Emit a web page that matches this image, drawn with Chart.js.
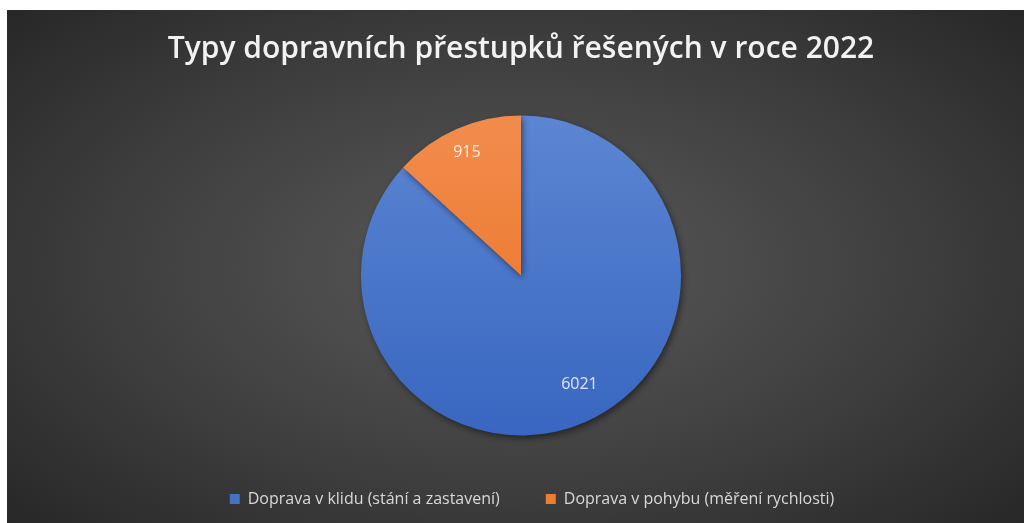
<!DOCTYPE html>
<html>
<head>
<meta charset="utf-8">
<script src="https://cdn.jsdelivr.net/npm/chart.js@4"></script>
<style>
  html, body { margin: 0; padding: 0; background: #ffffff; }
  #wrap {
    position: absolute; left: 7px; top: 10px; width: 1017px; height: 513px;
    background: radial-gradient(ellipse 70% 75% at 50% 50%, #5a5a5a 0%, #3f3f3f 55%, #262626 100%);
  }
</style>
</head>
<body>
<div id="wrap"><canvas id="myPieChart"></canvas></div>
<script>
const kategorie = ["Doprava v klidu (stání a zastavení)", "Doprava v pohybu (měření rychlosti)"];
const pocty = [6021, 915];
const nadpis = "Typy dopravních přestupků řešených v roce 2022";
const barvyNahore = ['#5d87d3', '#f28d4f'];
const barvyDole = ['#3765c0', '#e86f1c'];

document.addEventListener("DOMContentLoaded", function () {
    const ctx = document.getElementById("myPieChart");

    function gradient(context) {
        const i = context.dataIndex;
        const area = context.chart.chartArea;
        if (!area || context.type !== 'data') return barvyNahore[i];
        const g = context.chart.ctx.createLinearGradient(0, area.top, 0, area.bottom);
        g.addColorStop(0, barvyNahore[i]);
        g.addColorStop(1, barvyDole[i]);
        return g;
    }

    // stin a popisky hodnot uvnitr vysece
    const popisky = {
        id: 'popisky',
        afterLayout(chart) {
            // legenda je v originalu trochu vpravo od stredu kolace
            chart.legend.left += 11;
            chart.legend.right += 11;
        },
        beforeDatasetDraw(chart) {
            const c = chart.ctx;
            c.save();
            c.shadowColor = 'rgba(0,0,0,0.45)';
            c.shadowBlur = 6;
            c.shadowOffsetX = 2;
            c.shadowOffsetY = 3;
        },
        afterDatasetDraw(chart) {
            chart.ctx.restore();
        },
        afterDatasetsDraw(chart) {
            const c = chart.ctx;
            const meta = chart.getDatasetMeta(0);
            c.save();
            c.font = '16px "Open Sans"';
            c.textAlign = 'center';
            c.textBaseline = 'middle';
            c.fillStyle = 'rgba(255,255,255,0.85)';
            meta.data.forEach(function (arc, i) {
                const p = arc.getProps(['x', 'y', 'startAngle', 'endAngle', 'outerRadius'], true);
                const mid = (p.startAngle + p.endAngle) / 2 - (i === 0 ? 0.08 : 0);
                const r = p.outerRadius * (i === 0 ? 0.77 : 0.84);
                c.fillText(pocty[i], p.x + Math.cos(mid) * r, p.y + Math.sin(mid) * r);
            });
            c.restore();
        }
    };

    new Chart(ctx, {
        type: 'pie',
        data: {
            labels: kategorie,
            datasets: [{
                data: pocty,
                backgroundColor: gradient,
                borderWidth: 0,
                radius: 160,
            }],
        },
        options: {
            responsive: true,
            maintainAspectRatio: false,
            animation: false,
            layout: {
                padding: { left: 11, right: 0, top: 0, bottom: 6 }
            },
            plugins: {
                title: {
                    display: true,
                    text: nadpis,
                    color: '#f2f2f2',
                    padding: { top: 21, bottom: 39 },
                    font: {
                        family: '"Open Sans"',
                        size: 30,
                        weight: '600'
                    }
                },
                legend: {
                    position: 'bottom',
                    labels: {
                        color: '#d9d9d9',
                        boxWidth: 10,
                        boxHeight: 10,
                        padding: 46,
                        font: { family: '"Open Sans"', size: 16 },
                        generateLabels: function (chart) {
                            return kategorie.map(function (text, i) {
                                return {
                                    text: text,
                                    fillStyle: i === 0 ? '#4472c4' : '#ed7d31',
                                    strokeStyle: 'transparent',
                                    lineWidth: 0,
                                    fontColor: '#d9d9d9',
                                    hidden: false,
                                    index: i
                                };
                            });
                        }
                    }
                },
                tooltip: { enabled: false }
            }
        },
        plugins: [popisky]
    });
});
</script>
</body>
</html>
